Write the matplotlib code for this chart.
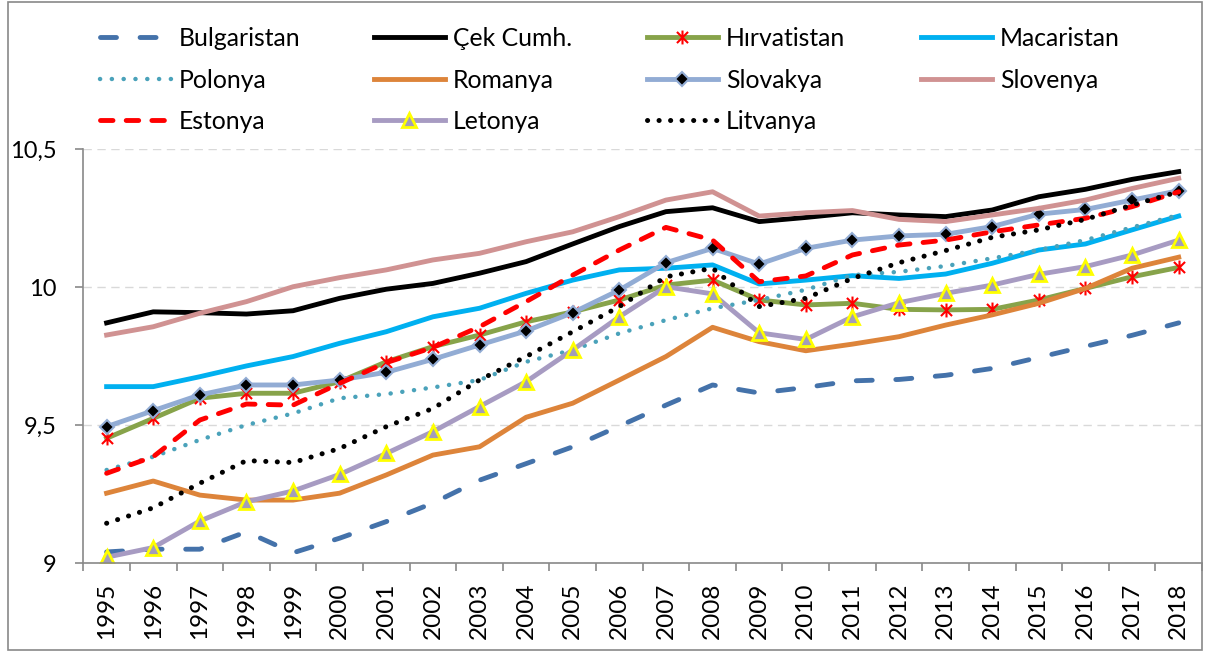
import numpy as np
import matplotlib
matplotlib.use("Agg")
import matplotlib.pyplot as plt
from matplotlib.path import Path
from matplotlib.patches import Rectangle

plt.rcParams['font.family'] = ['Lato', 'DejaVu Sans']
plt.rcParams['lines.scale_dashes'] = False

years = ['1995', '1996', '1997', '1998', '1999', '2000', '2001', '2002', '2003', '2004', '2005', '2006',
         '2007', '2008', '2009', '2010', '2011', '2012', '2013', '2014', '2015', '2016', '2017', '2018']

bulg = [9.040, 9.050, 9.050, 9.113, 9.037, 9.090, 9.150, 9.217, 9.300, 9.360, 9.421, 9.496,
        9.572, 9.645, 9.616, 9.636, 9.660, 9.665, 9.680, 9.705, 9.745, 9.785, 9.825, 9.870]
cek = [9.870, 9.910, 9.907, 9.902, 9.914, 9.959, 9.992, 10.013, 10.050, 10.092, 10.156, 10.219,
       10.273, 10.287, 10.237, 10.252, 10.269, 10.261, 10.255, 10.279, 10.327, 10.354, 10.390, 10.418]
hirv = [9.452, 9.524, 9.597, 9.615, 9.615, 9.657, 9.729, 9.784, 9.826, 9.874, 9.910, 9.953,
        10.007, 10.025, 9.953, 9.935, 9.941, 9.919, 9.917, 9.919, 9.953, 9.995, 10.037, 10.071]
mac = [9.639, 9.639, 9.675, 9.714, 9.748, 9.796, 9.838, 9.892, 9.923, 9.977, 10.025, 10.062,
       10.068, 10.080, 10.011, 10.025, 10.041, 10.031, 10.047, 10.086, 10.134, 10.156, 10.207, 10.257]
pol = [9.337, 9.385, 9.446, 9.500, 9.542, 9.597, 9.612, 9.636, 9.663, 9.729, 9.772, 9.832,
       9.880, 9.923, 9.953, 9.990, 10.043, 10.055, 10.076, 10.104, 10.134, 10.170, 10.216, 10.261]
rom = [9.253, 9.297, 9.246, 9.228, 9.228, 9.253, 9.319, 9.391, 9.421, 9.528, 9.579, 9.663,
       9.748, 9.854, 9.802, 9.769, 9.793, 9.820, 9.862, 9.899, 9.941, 9.995, 10.068, 10.108]
slk = [9.494, 9.552, 9.609, 9.645, 9.645, 9.663, 9.691, 9.738, 9.790, 9.841, 9.907, 9.989,
       10.088, 10.140, 10.083, 10.140, 10.170, 10.185, 10.191, 10.219, 10.264, 10.281, 10.315, 10.349]
slo = [9.826, 9.856, 9.905, 9.947, 10.001, 10.034, 10.062, 10.098, 10.122, 10.164, 10.200, 10.255,
       10.315, 10.345, 10.257, 10.269, 10.277, 10.245, 10.237, 10.261, 10.285, 10.315, 10.357, 10.394]
est = [9.325, 9.385, 9.518, 9.576, 9.572, 9.651, 9.726, 9.781, 9.856, 9.947, 10.043, 10.134,
       10.216, 10.170, 10.019, 10.040, 10.116, 10.152, 10.170, 10.200, 10.225, 10.249, 10.291, 10.345]
let = [9.021, 9.056, 9.152, 9.222, 9.261, 9.321, 9.397, 9.476, 9.567, 9.657, 9.772, 9.892,
       10.001, 9.975, 9.834, 9.810, 9.892, 9.943, 9.977, 10.007, 10.046, 10.074, 10.116, 10.170]
lit = [9.144, 9.200, 9.289, 9.371, 9.364, 9.415, 9.494, 9.560, 9.663, 9.748, 9.838, 9.929,
       10.037, 10.068, 9.929, 9.959, 10.031, 10.088, 10.132, 10.180, 10.207, 10.245, 10.297, 10.345]

yticks = [9, 9.5, 10, 10.5]
ytick_labels = ['9', '9,5', '10', '10,5']

W, H = 1206, 653
fig = plt.figure(figsize=(W / 100, H / 100), dpi=100)
ax = fig.add_axes([83.3 / W, 1 - 563 / H, (1202 - 83.3) / W, (563 - 149) / H])

x = np.arange(len(years))

# asterisk like excel: vertical bar + X
star = Path([(0, -1), (0, 1), (-0.8, -0.8), (0.8, 0.8), (-0.8, 0.8), (0.8, -0.8)],
            [Path.MOVETO, Path.LINETO, Path.MOVETO, Path.LINETO, Path.MOVETO, Path.LINETO])

lw = 3.5
lines = {}
lines['Bulgaristan'], = ax.plot(x, bulg, color='#4472AA', lw=lw, linestyle=(0, (11.5, 17.0)),
                               dash_capstyle='round')
lines['Çek Cumh.'], = ax.plot(x, cek, color='black', lw=lw)
lines['Hırvatistan'], = ax.plot(x, hirv, color='#87A34A', lw=lw, marker=star, ms=10,
                               mec='#FF0000', mfc='none', mew=1.5)
lines['Macaristan'], = ax.plot(x, mac, color='#00B0F0', lw=lw)
lines['Polonya'], = ax.plot(x, pol, color='#4AA2BA', lw=3.2, linestyle=(0, (0.1, 8.4)),
                           dash_capstyle='round')
lines['Romanya'], = ax.plot(x, rom, color='#DD843A', lw=lw)
lines['Slovakya'], = ax.plot(x, slk, color='#92ACD4', lw=lw, marker='D', ms=7,
                            mfc='black', mec='#92ACD4', mew=1.5)
lines['Slovenya'], = ax.plot(x, slo, color='#D09292', lw=lw)
lines['Estonya'], = ax.plot(x, est, color='#FF0000', lw=lw, linestyle=(0, (9.0, 9.5)),
                           dash_capstyle='round')
lines['Letonya'], = ax.plot(x, let, color='#A79BC2', lw=lw, marker='^', ms=10,
                           mfc='#A29DB9', mec='#FFFF00', mew=2)
lines['Litvanya'], = ax.plot(x, lit, color='black', lw=3.6, linestyle=(0, (0.1, 8.2)),
                            dash_capstyle='round')

ax.set_xlim(-0.5, len(years) - 0.5)
ax.set_ylim(9, 10.5)
ax.set_yticks(yticks)
ax.set_yticklabels(ytick_labels)
ax.set_xticks(x)
ax.set_xticklabels(years, rotation=90)
ax.set_xticks(np.arange(len(years) + 1) - 0.5, minor=True)
ax.tick_params(axis='x', which='major', length=0, pad=14, labelsize=17.5)
ax.tick_params(axis='x', which='minor', length=6, width=1.2, color='#898989', direction='out')
ax.tick_params(axis='y', length=6, width=1.2, color='#898989', pad=13, labelsize=17)
ax.grid(axis='y', color='#D9D9D9', linestyle=(0, (6, 4)), lw=1)
ax.set_axisbelow(True)
for s in ['top', 'right']:
    ax.spines[s].set_visible(False)
for s in ['left', 'bottom']:
    ax.spines[s].set_color('#898989')
    ax.spines[s].set_linewidth(1.2)

# legend: four columns placed at fixed pitch
cols = [['Bulgaristan', 'Polonya', 'Estonya'],
        ['Çek Cumh.', 'Romanya', 'Letonya'],
        ['Hırvatistan', 'Slovakya', 'Litvanya'],
        ['Macaristan', 'Slovenya']]
col_x = [100, 374, 647, 921]
fs = 17.8
fs_px = fs * 100 / 72
for cx, names in zip(col_x, cols):
    fig.legend([lines[n] for n in names], names, loc='upper left',
               bbox_to_anchor=(cx / W, 1 - 27 / H), bbox_transform=fig.transFigure,
               frameon=False, fontsize=fs, borderpad=0, borderaxespad=0,
               handlelength=71 / fs_px, handletextpad=8 / fs_px, labelspacing=0.75)

fig.add_artist(Rectangle((7.5 / W, 1 - 650 / H), (1202 - 7.5) / W, (650 - 1.5) / H,
                         transform=fig.transFigure, fill=False, edgecolor='#898989', lw=1.2))

fig.savefig('out.png', dpi=100)
